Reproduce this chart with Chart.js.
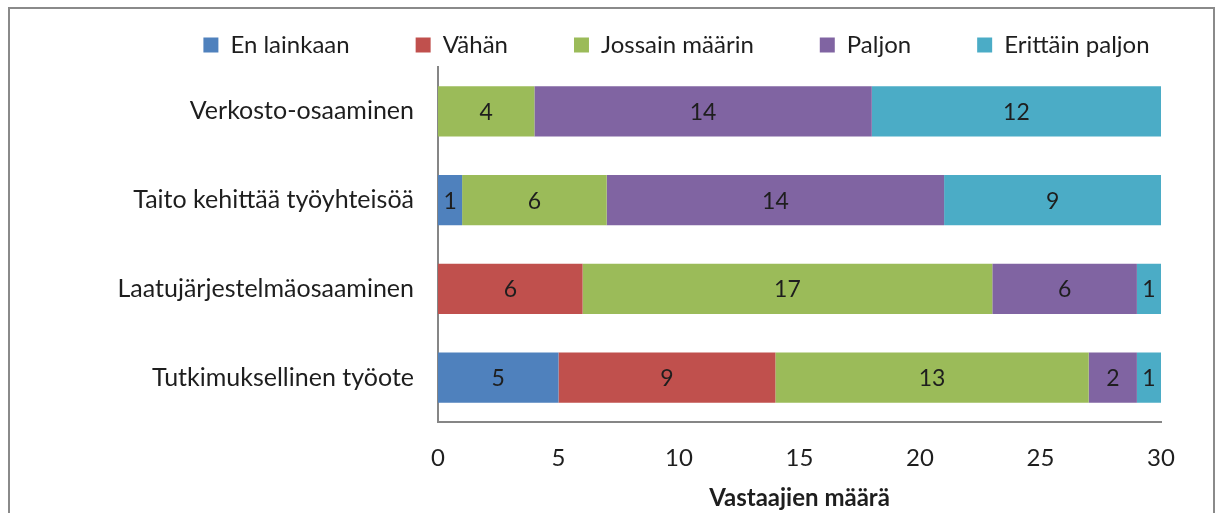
<!DOCTYPE html>
<html>
<head>
<meta charset="utf-8">
<script src="https://cdn.jsdelivr.net/npm/chart.js@4/dist/chart.umd.min.js"></script>
<style>
  html, body { margin: 0; padding: 0; background: #fff; overflow: hidden; }
  #wrap { position: relative; width: 1219px; height: 513px; }
  #frame { position: absolute; left: 8px; top: 7px; width: 1203px; height: 520px; border: 2px solid #8a8a8a; pointer-events: none; }
</style>
</head>
<body>
<div id="wrap">
  <canvas id="chart" width="1219" height="513"></canvas>
  <div id="frame"></div>
</div>
<script>
// Kategoriat ja sarjat
const categories = ['Verkosto-osaaminen', 'Taito kehittää työyhteisöä', 'Laatujärjestelmäosaaminen', 'Tutkimuksellinen työote'];
const seriesNames = ['En lainkaan', 'Vähän', 'Jossain määrin', 'Paljon', 'Erittäin paljon'];
const enLainkaan = [0, 1, 0, 5];
const vahan = [0, 0, 6, 9];
const jossainMaarin = [4, 6, 17, 13];
const paljon = [14, 14, 6, 2];
const erittainPaljon = [12, 9, 1, 1];
const xTicks = [0, 5, 10, 15, 20, 25, 30];
const colors = ['#4F81BD', '#C0504D', '#9BBB59', '#8064A2', '#4BACC6'];

const FONT = 'Lato, "Open Sans", sans-serif';
const TEXT = '#1e1e1e';
const allSeries = [enLainkaan, vahan, jossainMaarin, paljon, erittainPaljon];

const LEGEND_SHIFT = 96;   // selitteen siirto oikealle
const LEGEND_PAD = 66;     // väli selitteiden välillä
const LEGEND_H = 100;      // selitealueen korkeus

// arvot palkkien sisälle
const barLabels = {
    id: 'barLabels',
    afterDatasetsDraw(chart) {
        const ctx = chart.ctx;
        ctx.save();
        ctx.font = '23px ' + FONT;
        ctx.fillStyle = TEXT;
        ctx.textAlign = 'center';
        ctx.textBaseline = 'middle';
        chart.data.datasets.forEach((ds, i) => {
            const meta = chart.getDatasetMeta(i);
            meta.data.forEach((bar, j) => {
                const v = ds.data[j];
                if (!v) return;
                const p = bar.getCenterPoint();
                ctx.fillText(String(v), p.x, p.y + 1);
            });
        });
        ctx.restore();
    }
};

// selitteen korkeus kiinteäksi ja selite hieman oikealle
const legendFit = {
    id: 'legendFit',
    beforeLayout(chart) {
        const lg = chart.legend;
        if (!lg || lg._fitPatched) return;
        const fit = lg.fit;
        lg.fit = function () { fit.call(this); this.height = LEGEND_H; };
        lg._fitPatched = true;
    },
    afterLayout(chart) {
        const lg = chart.legend;
        if (!lg) return;
        lg.left += LEGEND_SHIFT;
        lg.right += LEGEND_SHIFT;
    }
};

new Chart(document.getElementById('chart'), {
    type: 'bar',
    data: {
        labels: categories,
        datasets: seriesNames.map((name, i) => ({
            label: name,
            data: allSeries[i],
            backgroundColor: colors[i],
            borderWidth: 0,
            categoryPercentage: 1,
            barPercentage: 0.565
        }))
    },
    options: {
        indexAxis: 'y',
        responsive: false,
        animation: false,
        layout: { padding: { left: 0, right: 58, top: -33, bottom: 0 } },
        plugins: {
            legend: {
                position: 'top',
                labels: { font: { family: FONT, size: 24 }, color: TEXT, boxWidth: 15, boxHeight: 15, padding: LEGEND_PAD }
            },
            tooltip: { enabled: false }
        },
        scales: {
            x: {
                stacked: true,
                min: 0, max: 30,
                afterBuildTicks(scale) { scale.ticks = xTicks.map(v => ({ value: v })); },
                grid: { display: false, drawTicks: false },
                border: { display: true, color: '#868686', width: 2 },
                ticks: { font: { family: FONT, size: 24 }, color: TEXT, padding: 22 },
                title: { display: true, text: 'Vastaajien määrä', font: { family: FONT, size: 24, weight: 'bold' }, color: TEXT, padding: { top: 6, bottom: 0 } },
                afterFit(scale) { scale.height = 91; }
            },
            y: {
                stacked: true,
                grid: { display: false, drawTicks: false },
                border: { display: true, color: '#868686', width: 2 },
                ticks: { font: { family: FONT, size: 25 }, color: TEXT, padding: 24 },
                afterFit(scale) { scale.width = 438; }
            }
        }
    },
    plugins: [barLabels, legendFit]
});
</script>
</body>
</html>
